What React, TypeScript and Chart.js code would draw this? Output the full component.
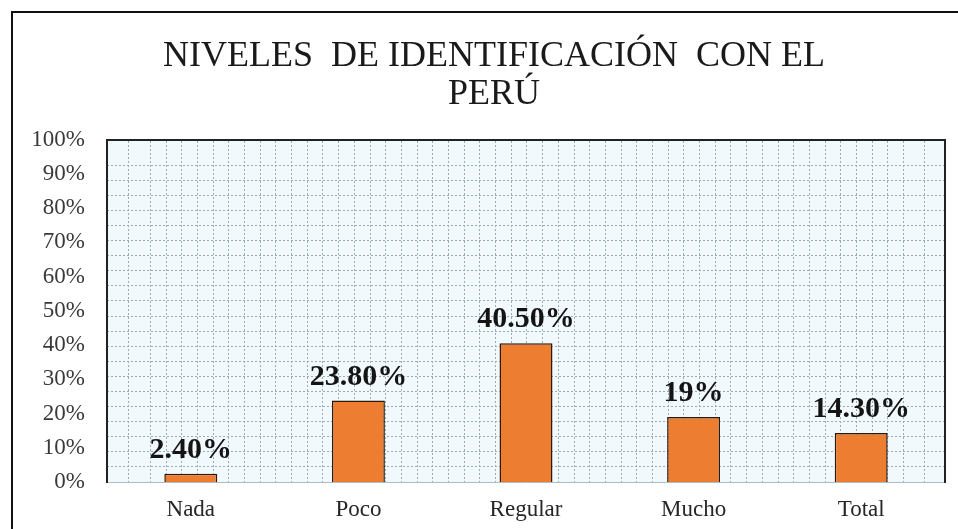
import React, { useEffect, useRef } from "react";
import { Chart, registerables } from "chart.js";

Chart.register(...registerables);

const categories = ["Nada", "Poco", "Regular", "Mucho", "Total"];
const values = [2.4, 23.8, 40.5, 19, 14.3];
const valueLabels = ["2.40%", "23.80%", "40.50%", "19%", "14.30%"];
const yTicks = [0, 10, 20, 30, 40, 50, 60, 70, 80, 90, 100];
const titleLines = ["NIVELES  DE IDENTIFICACIÓN  CON EL", "PERÚ"];

const plotBg = {
  id: "plotBg",
  beforeDraw(chart: any) {
    const { ctx, chartArea } = chart;
    ctx.save();
    ctx.fillStyle = "#f2f9fc";
    ctx.fillRect(chartArea.left, chartArea.top, chartArea.right - chartArea.left, chartArea.bottom - chartArea.top);
    ctx.restore();
  },
};

const valueLabelPlugin = {
  id: "valueLabels",
  afterDatasetsDraw(chart: any) {
    const { ctx } = chart;
    const meta = chart.getDatasetMeta(0);
    ctx.save();
    ctx.font = "bold 30px 'Liberation Serif', 'Times New Roman', serif";
    ctx.fillStyle = "#141414";
    ctx.textAlign = "center";
    ctx.textBaseline = "alphabetic";
    meta.data.forEach((bar: any, i: number) => {
      ctx.fillText(valueLabels[i], bar.x, bar.y - 16);
    });
    ctx.restore();
  },
};

export default function App() {
  const ref = useRef<HTMLCanvasElement | null>(null);
  useEffect(() => {
    if (!ref.current) return;
    const serif = "'Liberation Serif', 'Times New Roman', serif";
    const chart = new Chart(ref.current, {
      type: "bar",
      data: {
        labels: categories,
        datasets: [
          {
            data: values,
            backgroundColor: "#ed7d31",
            borderColor: "#2a1a0e",
            borderWidth: 1.5,
            borderSkipped: "bottom",
            barPercentage: 0.316,
            categoryPercentage: 1,
          },
        ],
      },
      options: {
        animation: false,
        responsive: true,
        maintainAspectRatio: false,
        layout: { padding: { left: 17, right: 0, top: 0, bottom: 0 } },
        plugins: {
          legend: { display: false },
          tooltip: { enabled: false },
          title: {
            display: true,
            text: titleLines,
            color: "#1a1a1a",
            font: { family: serif, size: 36, weight: "normal", lineHeight: 1.05 },
            padding: { top: 25, bottom: 26 },
          },
        },
        scales: {
          x: {
            type: "category",
            position: "bottom",
            grid: { display: false, drawTicks: false },
            border: { display: true, color: "#aebcc4", width: 1 },
            ticks: {
              color: "#262626",
              font: { family: serif, size: 23 },
              padding: 14,
            },
            afterFit: (s: any) => {
              s.height = 47;
            },
          },
          x2: {
            type: "linear",
            position: "top",
            min: -0.75,
            max: 51.625,
            grid: { display: true, color: "#9aabb4", drawTicks: false, lineWidth: 1 },
            border: { display: true, color: "#222222", width: 2, dash: [2, 2] },
            ticks: { display: false, stepSize: 1 },
            afterFit: (s: any) => {
              s.height = 0;
            },
          },
          y: {
            type: "linear",
            position: "left",
            min: 0,
            max: 100,
            afterBuildTicks: (s: any) => {
              s.ticks = yTicks.map((v) => ({ value: v }));
            },
            grid: { display: false, drawTicks: false },
            border: { display: true, color: "#222222", width: 2 },
            ticks: {
              color: "#3a3a3a",
              font: { family: serif, size: 23 },
              padding: 22,
              callback: (v: any) => v + "%",
            },
            afterFit: (s: any) => {
              s.width = 77;
            },
          },
          y2: {
            type: "linear",
            position: "right",
            min: 0,
            max: 22.7,
            grid: { display: true, color: "#9aabb4", drawTicks: false, lineWidth: 1 },
            border: { display: true, color: "#222222", width: 2, dash: [2, 2] },
            ticks: { display: false, stepSize: 1 },
            afterFit: (s: any) => {
              s.width = 13;
            },
          },
        },
      },
      plugins: [plotBg, valueLabelPlugin],
    });
    return () => chart.destroy();
  }, []);

  return (
    <div style={{ position: "absolute", left: 0, top: 0, width: 958, height: 529, overflow: "hidden", background: "#fff" }}>
      <div
        style={{
          position: "absolute",
          left: 11,
          top: 11,
          width: 1000,
          height: 600,
          borderLeft: "2px solid #111",
          borderTop: "2px solid #111",
        }}
      />
      <div style={{ position: "absolute", left: 13, top: 13, width: 945, height: 516 }}>
        <canvas ref={ref} />
      </div>
    </div>
  );
}
